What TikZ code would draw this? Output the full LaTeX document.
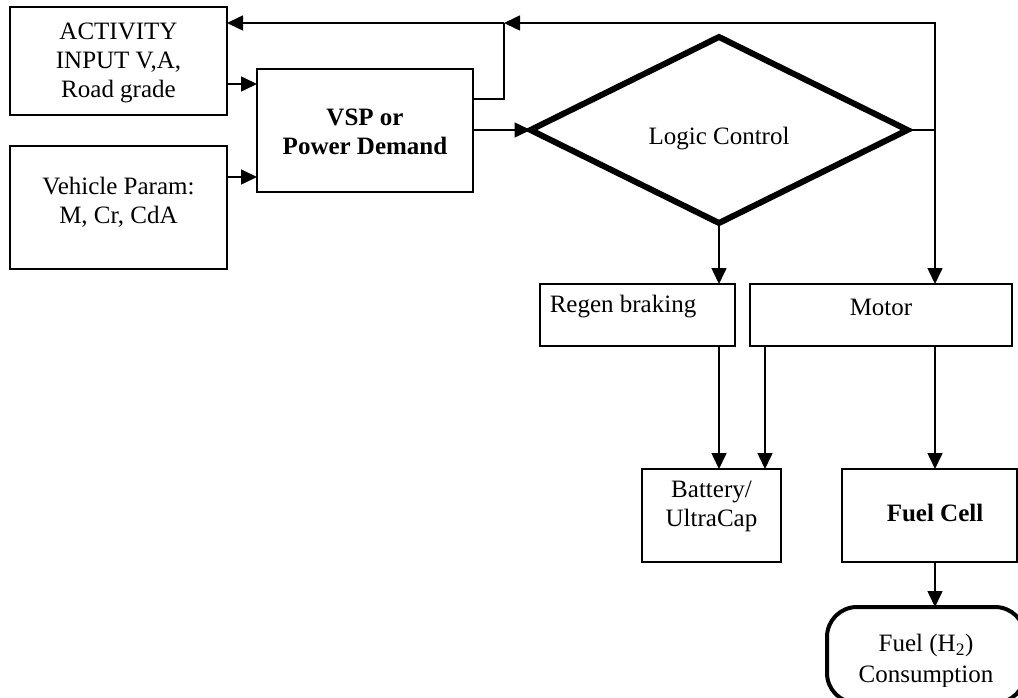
\documentclass[tikz,border=0pt]{standalone}
\usepackage{fontspec}
\setmainfont{Liberation Serif}
\usetikzlibrary{shapes.geometric,arrows.meta}
\begin{document}
\begin{tikzpicture}[x=1pt,y=-1pt,
  every node/.style={font=\fontsize{25}{29}\selectfont, align=center},
  box/.style={draw, line width=1.6pt, rectangle, inner sep=0pt, outer sep=0pt},
  lbl/.style={font=\fontsize{25}{29}\selectfont, align=center, inner sep=0pt},
  bfl/.style={font=\fontsize{25}{29}\selectfont\bfseries, align=center, inner sep=0pt},
  line/.style={line width=1.6pt},
  arr/.style={line width=1.6pt, -{Triangle[length=16pt,width=15pt]}},
]
\useasboundingbox (0,0) rectangle (1018,698);

% boxes
\node[box, minimum width=217, minimum height=108,
      label={[lbl,yshift=-2pt]center:{ACTIVITY\\INPUT V,A,\\Road grade}}] (act) at (118.5,61) {};
\node[box, minimum width=217, minimum height=123,
      label={[lbl,yshift=5pt]center:{Vehicle Param:\\M, Cr, CdA}}] (veh) at (118.5,207.5) {};
\node[box, minimum width=216, minimum height=123,
      label={[bfl,yshift=-1pt]center:{VSP or\\Power Demand}}] (vsp) at (365,130.5) {};
\node[draw, diamond, line width=6pt, minimum width=377, minimum height=186, inner sep=0pt, outer sep=0pt,
      label={[lbl,yshift=-9pt]center:Logic Control}] (dia) at (719,130) {};
\node[box, minimum width=195, minimum height=62,
      label={[lbl,xshift=-14.5pt,yshift=8pt]center:Regen braking}] (regen) at (637.5,315) {};
\node[box, minimum width=262, minimum height=62,
      label={[lbl,yshift=8pt]center:Motor}] (motor) at (881,315) {};
\node[box, minimum width=139, minimum height=93,
      label={[lbl,yshift=9pt]center:{Battery/\\UltraCap}}] (batt) at (711.5,515.5) {};
\node[box, minimum width=175, minimum height=93,
      label={[bfl,xshift=5.5pt,yshift=2.5pt]center:Fuel Cell}] (fc) at (929.5,515.5) {};
\node[draw, rectangle, line width=4pt, rounded corners=30pt, minimum width=198, minimum height=96,
      inner sep=0pt, outer sep=0pt] (fuel) at (926,655) {};
\begin{scope}
  \clip (0,0) rectangle (1018,686);
  \node[lbl] (fueltxt) at (926,661) {Fuel (H\textsubscript{2})\\[2pt]Consumption};
\end{scope}

% helper coordinates
\coordinate (y84) at (0,84);
\coordinate (y177) at (0,177);
\coordinate (y99) at (0,99);
\coordinate (j1) at (935,130);
\coordinate (j2) at (935,23);
\coordinate (j3) at (504,23);
\coordinate (m1) at (765,0);

% connectors
\draw[arr] (act.east |- y84) -- (vsp.west |- y84);
\draw[arr] (veh.east |- y177) -- (vsp.west |- y177);
\draw[arr] (vsp.east |- dia.west) -- (dia.west);
\draw[line] (vsp.east |- y99) -| (j3);
\draw[arr] (dia.east) -- (j1) -- (j2) -- (j3);
\draw[arr] (j3) -- (act.east |- j3);
\draw[arr] (j1) -- (j1 |- motor.north);
\draw[arr] (dia.south) -- (dia.south |- regen.north);
\draw[arr] (dia.south |- regen.south) -- (dia.south |- batt.north);
\draw[arr] (m1 |- motor.south) -- (m1 |- batt.north);
\draw[arr] (j1 |- motor.south) -- (j1 |- fc.north);
\draw[arr] (j1 |- fc.south) -- (j1 |- fuel.north);
\end{tikzpicture}
\end{document}
